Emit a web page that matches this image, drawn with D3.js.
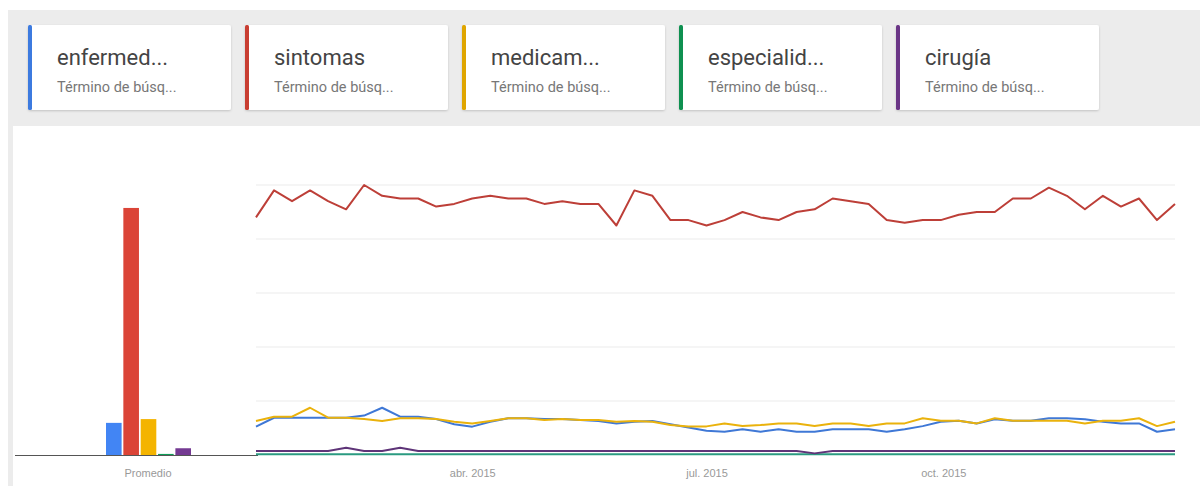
<!DOCTYPE html>
<html>
<head>
<meta charset="utf-8">
<script src="https://cdn.jsdelivr.net/npm/d3@7"></script>
<style>
  body { margin: 0; background: #fff; }
  svg { display: block; }
</style>
</head>
<body>
<div id="chart"></div>
<script>
// terms shown in the cards / legend
const terms = ["enfermed...", "sintomas", "medicam...", "especialid...", "cirugía"];
const termKeys = ["enfermedades", "sintomas", "medicamentos", "especialidades", "cirugia"];
const subLabel = "Término de búsq...";
const colors = ["#4285f4", "#db4437", "#f4b400", "#0f9d58", "#743a92"];
const lineColors = ["#3f78d6", "#bd3f38", "#eab20c", "#2a9a80", "#5e3478"];

// weekly values 2015
const enfermedades = [10.5,13.8,13.8,13.8,13.8,13.8,14.6,17.5,14.2,14.2,13.3,11.4,10.5,12.3,13.6,13.6,13.3,13.3,13.0,12.6,11.7,12.3,12.6,11.4,10.2,9.0,8.6,9.5,8.6,9.5,8.6,8.6,9.5,9.5,9.5,8.6,9.5,10.7,12.3,12.7,11.7,13.2,12.7,12.7,13.6,13.6,13.2,12.3,11.7,11.7,8.6,9.5];
const sintomas = [88,98,94,98,94,91,100,96,95,95,92,93,95,96,95,95,93,94,93,93,85,98,96,87,87,85,87,90,88,87,90,91,95,94,93,87,86,87,87,89,90,90,95,95,99,96,91,96,92,95,87,93];
const medicamentos = [12.6,14.2,14.2,17.5,13.8,13.8,13.3,12.6,13.6,13.6,13.3,12.3,11.7,12.6,13.6,13.6,13.0,13.3,13.0,13.0,12.3,12.6,12.3,11.1,10.6,10.6,11.7,10.7,11.1,11.7,11.7,10.7,11.7,11.7,10.7,11.7,11.7,13.6,12.7,12.7,11.7,13.6,12.7,12.7,12.7,12.7,11.7,12.7,12.7,13.6,10.7,12.3];
const especialidades = [0.3,0.3,0.3,0.3,0.3,0.3,0.3,0.3,0.3,0.3,0.3,0.3,0.3,0.3,0.3,0.3,0.3,0.3,0.3,0.3,0.3,0.3,0.3,0.3,0.3,0.3,0.3,0.3,0.3,0.3,0.3,0.3,0.3,0.3,0.3,0.3,0.3,0.3,0.3,0.3,0.3,0.3,0.3,0.3,0.3,0.3,0.3,0.3,0.3,0.3,0.3,0.3];
const cirugia = [1.5,1.5,1.5,1.5,1.5,2.7,1.5,1.5,2.7,1.5,1.5,1.5,1.5,1.5,1.5,1.5,1.5,1.5,1.5,1.5,1.5,1.5,1.5,1.5,1.5,1.5,1.5,1.5,1.5,1.5,1.5,0.6,1.5,1.5,1.5,1.5,1.5,1.5,1.5,1.5,1.5,1.5,1.5,1.5,1.5,1.5,1.5,1.5,1.5,1.5,1.5,1.5];

// averages ("Promedio" bars)
const promedio = [11.9, 91.5, 13.3, 0.4, 2.5];

// x axis ticks
const tickDates = [new Date(2015, 3, 1), new Date(2015, 6, 1), new Date(2015, 9, 1)];
const tickLabels = ["abr. 2015", "jul. 2015", "oct. 2015"];
const gridValues = [20, 40, 60, 80, 100];

const allSeries = [enfermedades, sintomas, medicamentos, especialidades, cirugia];
const firstWeek = new Date(2015, 0, 7);
const weeks = sintomas.map((d, i) => d3.timeWeek.offset(firstWeek, i));

const W = 1200, H = 486;
const svg = d3.select("#chart").append("svg")
  .attr("width", W)
  .attr("height", H)
  .style("font-family", "Roboto, Arial, sans-serif");

const defs = svg.append("defs");
defs.append("filter")
  .attr("id", "shadow")
  .attr("x", "-5%").attr("y", "-10%").attr("width", "110%").attr("height", "130%")
  .append("feDropShadow")
  .attr("dx", 0).attr("dy", 1)
  .attr("stdDeviation", 1.2)
  .attr("flood-color", "#000")
  .attr("flood-opacity", 0.18);

// background: gray header band + white chart panel
svg.append("rect").attr("x", 8).attr("y", 10).attr("width", W - 8).attr("height", H - 10).attr("fill", "#ececec");
svg.append("rect").attr("x", 13).attr("y", 126).attr("width", W - 13).attr("height", H - 126).attr("fill", "#fff");

// legend cards
const cards = svg.append("g").selectAll("g")
  .data(terms)
  .join("g")
  .attr("transform", (d, i) => `translate(${28 + i * 217},25)`);

cards.append("rect")
  .attr("width", 203).attr("height", 85)
  .attr("rx", 2)
  .attr("fill", "#fff")
  .attr("filter", "url(#shadow)");

cards.append("rect")
  .attr("width", 4).attr("height", 85)
  .attr("rx", 1.5)
  .attr("fill", (d, i) => d3.color(colors[i]).darker(0.25));

cards.append("text")
  .attr("x", 29).attr("y", 40)
  .style("font-size", "22px")
  .attr("fill", "#444")
  .text(d => d);

cards.append("text")
  .attr("x", 29).attr("y", 67)
  .style("font-size", "14.5px")
  .attr("fill", "#777")
  .text(subLabel);

// scales
const y = d3.scaleLinear().domain([0, 100]).range([455, 185]);
const x = d3.scaleTime().domain([weeks[0], weeks[weeks.length - 1]]).range([256, 1175]);
const xBar = d3.scaleBand().domain(termKeys).range([106, 191]).paddingInner(0.1);

// grid lines
svg.append("g")
  .selectAll("line")
  .data(gridValues)
  .join("line")
  .attr("x1", 256).attr("x2", 1175)
  .attr("y1", d => y(d)).attr("y2", d => y(d))
  .attr("stroke", "#ebebeb")
  .attr("stroke-width", 1);

// average bars
svg.append("g")
  .selectAll("rect")
  .data(promedio)
  .join("rect")
  .attr("x", (d, i) => xBar(termKeys[i]))
  .attr("width", xBar.bandwidth())
  .attr("y", d => y(d))
  .attr("height", d => y(0) - y(d))
  .attr("fill", (d, i) => colors[i]);

// bar baseline
svg.append("line")
  .attr("x1", 15).attr("x2", 258)
  .attr("y1", y(0) + 0.5).attr("y2", y(0) + 0.5)
  .attr("stroke", "#555")
  .attr("stroke-width", 1);

svg.append("text")
  .attr("x", 148).attr("y", 477)
  .attr("text-anchor", "middle")
  .style("font-family", "'Liberation Sans', Arial, sans-serif")
  .style("font-size", "11px")
  .attr("fill", "#999")
  .text("Promedio");

// lines (drawn bottom to top so red is on top)
const line = d3.line()
  .x((d, i) => x(weeks[i]))
  .y(d => y(d));

const drawOrder = [3, 4, 0, 2, 1];
svg.append("g")
  .selectAll("path")
  .data(drawOrder)
  .join("path")
  .attr("d", k => line(allSeries[k]))
  .attr("fill", "none")
  .attr("stroke", k => lineColors[k])
  .attr("stroke-width", 2)
  .attr("stroke-linejoin", "round");

// x axis labels
const xAxis = d3.axisBottom(x)
  .tickValues(tickDates)
  .tickSize(0)
  .tickPadding(0)
  .tickFormat((d, i) => tickLabels[i]);

const gx = svg.append("g")
  .attr("transform", "translate(0,469)")
  .call(xAxis);
gx.select(".domain").remove();
gx.selectAll("text")
  .attr("dy", "0.71em")
  .style("font-family", "'Liberation Sans', Arial, sans-serif")
  .style("font-size", "11px")
  .attr("fill", "#999");
</script>
</body>
</html>
